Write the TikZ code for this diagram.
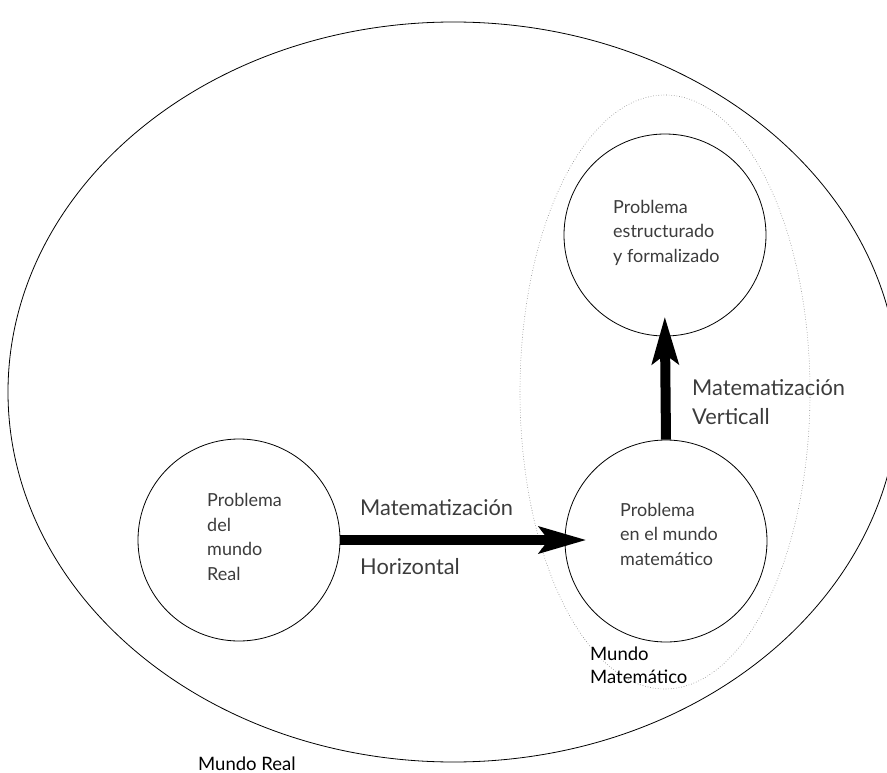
\documentclass[tikz,border=0pt]{standalone}
\usepackage{fontspec}
\setmainfont{Lato}
\usepackage{xcolor}
\usepackage{tikz}
\usetikzlibrary{arrows.meta, positioning}
\definecolor{textgray}{RGB}{60, 60, 60}

\begin{document}
\begin{tikzpicture}[x=1pt, y=-1pt,
    problem/.style={circle, draw, line width=0.8pt, minimum size=202pt, inner sep=0pt},
    boxtext/.style={anchor=base west, align=left, inner sep=0pt, text=textgray, font=\fontsize{18}{24.5}\selectfont},
    arrowlabel/.style={anchor=base west, align=left, inner sep=0pt, text=textgray, font=\fontsize{21.8}{29}\selectfont},
    worldlabel/.style={anchor=base west, align=left, inner sep=0pt, font=\fontsize{18.5}{23}\selectfont},
    bigarrow/.style={line width=10pt, -{Stealth[length=47pt, width=26pt, inset=9pt]}}]
    \useasboundingbox (0,0) rectangle (887,773);

    % The real world (outer ellipse)
    \draw[line width=0.8pt] (453.5,392) ellipse [x radius=445.5, y radius=370];

    % The mathematical world (dotted ellipse)
    \draw[dotted, gray, line width=0.6pt] (665,392) ellipse [x radius=145, y radius=297];

    % The three problems
    \node[problem] (real) at (239,540) {};
    \node[problem] (matem) at (666,541) {};
    \node[problem] (formal) at (665,235) {};

    % (multi-line nodes sit on the baseline of their last line)
    \node[boxtext] (realtext) at (207,580) {Problema\\del\\mundo\\Real};
    \node[boxtext] (matemtext) at (620,565) {Problema\\en el mundo\\matemático};
    \node[boxtext] (formaltext) at (613,262) {Problema\\estructurado\\y formalizado};

    % Horizontal and vertical steps
    \draw[bigarrow, shorten >=-22pt] (real.east) -- (real.east -| matem.west);
    \draw[bigarrow, shorten >=-20pt] (matem.north) -- (formal.south);

    \node[arrowlabel] (horiztop) at (360,515) {Matematización};
    \node[arrowlabel] (horizbot) at (360,574) {Horizontal};
    \node[arrowlabel] (vertlabel) at (692,424) {Matematización\\Verticall};

    % Names of the two worlds
    \node[worldlabel] (mathworld) at (590,683) {Mundo\\Matemático};
    \node[worldlabel] (realworld) at (198,770) {Mundo Real};
\end{tikzpicture}
\end{document}
